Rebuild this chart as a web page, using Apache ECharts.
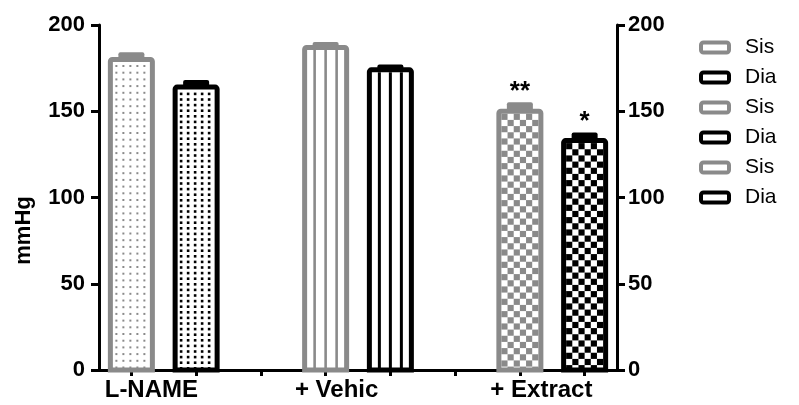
<!DOCTYPE html>
<html>
<head>
<meta charset="utf-8">
<script src="https://cdn.jsdelivr.net/npm/echarts@6/dist/echarts.min.js"></script>
<style>
  html, body { margin: 0; padding: 0; background: #fff; }
  #chart { width: 799px; height: 405px; }
</style>
</head>
<body>
<div id="chart"></div>
<script>
// Blood pressure (mmHg) per treatment group: systolic (Sis) and diastolic (Dia), mean + SEM
const groups   = ['L-NAME', '+ Vehic', '+ Extract'];
const sisMean  = [180, 187, 150];
const sisSem   = [3, 2, 4];
const diaMean  = [164, 174, 133];
const diaSem   = [3, 2, 3.5];
const sisMarks = ['', '', '**'];
const diaMarks = ['', '', '*'];
const yMin = 0, yMax = 200, yStep = 50;

const FONT = '"Liberation Sans", Arial, Helvetica, sans-serif';
const GRAY = '#8a8a8a';
const BLACK = '#000000';

// Each group takes three slots on the category axis: Sis, Dia, empty gap
const slotCount = groups.length * 3 - 1;
const slotIds = Array.from({ length: slotCount }, (_, i) => 's' + i);
const labelShift = [40, 22, 43];

// Fill style of every bar (pattern kind per group)
const fills = ['dots', 'stripes', 'checker'];

function patternElements(kind, isSis, color, ix, iy, iw, ih) {
  const out = [];
  const bottom = iy + ih;
  const push = (x, y, w, h) => {
    const y2 = Math.min(y + h, bottom);
    if (y2 <= y) return;
    out.push({ type: 'rect', shape: { x, y, width: w, height: y2 - y }, style: { fill: color } });
  };
  if (kind === 'dots') {
    const sx = 7, sy = isSis ? 6.7 : 5.6, d = isSis ? 2 : 2.6;
    for (let y = iy + 3; y < bottom - 1; y += sy) {
      for (let x = ix + 3.5 - d / 2; x + d <= ix + iw; x += sx) push(x, y, d, d);
    }
  } else if (kind === 'stripes') {
    const cx = ix + iw / 2, w = isSis ? 2.6 : 3;
    [-11, 0, 11].forEach(o => push(cx + o - w / 2, iy, w, ih));
  } else if (kind === 'checker') {
    const c = iw / 6;
    let r = 0;
    for (let y = iy; y < bottom; y += c, r++) {
      for (let k = 0; k < 6; k++) {
        if ((k + r) % 2 === 0) push(ix + k * c, y, c, c);
      }
    }
  }
  return out;
}

function markFor(isSis, slot) {
  const g = Math.floor(slot / 3);
  return isSis ? sisMarks[g] : diaMarks[g];
}

function makeRender(kind, isSis, color) {
  return function (params, api) {
    const slot = api.value(0), mean = api.value(1), sem = api.value(2);
    const mark = markFor(isSis, slot);
    const top = api.coord([slot, mean]);
    const base = api.coord([slot, 0]);
    const err = api.coord([slot, mean + sem]);
    const cx = top[0], bw = 42, lw = 5, capW = 26;
    const ix = cx - bw / 2 + lw / 2, iy = top[1] + lw / 2;
    const iw = bw - lw, ih = base[1] - iy;
    const children = [
      { type: 'rect', shape: { x: ix, y: iy, width: iw, height: ih }, style: { fill: '#fff' } }
    ].concat(patternElements(kind, isSis, color, ix, iy, iw, ih));
    // error bar (upper half): solid cap block resting on the bar
    children.push({
      type: 'rect',
      shape: { x: cx - capW / 2, y: err[1] - 2, width: capW, height: top[1] - err[1] + 2, r: [2, 2, 0, 0] },
      style: { fill: color }
    });
    children.push({
      type: 'rect', shape: { x: cx - bw / 2, y: top[1], width: bw, height: base[1] - top[1], r: [2, 2, 0, 0] },
      style: { fill: 'none', stroke: color, lineWidth: lw }
    });
    if (mark) {
      children.push({
        type: 'text',
        style: {
          text: mark, x: cx, y: err[1] - 13, fill: '#000',
          font: 'bold 26px ' + FONT, align: 'center', verticalAlign: 'middle'
        }
      });
    }
    return { type: 'group', children };
  };
}

const series = [];
const legendData = [];
groups.forEach((g, gi) => {
  [['Sis', sisMean, sisSem, GRAY, true, 0], ['Dia', diaMean, diaSem, BLACK, false, 1]].forEach(
    ([label, means, sems, color, isSis, off]) => {
      const name = label + ' ' + g;
      series.push({
        name,
        type: 'custom',
        xAxisIndex: 0,
        yAxisIndex: 0,
        itemStyle: { color: '#fff', borderColor: color, borderWidth: 4 },
        encode: { x: 0, y: 1 },
        data: [[gi * 3 + off, means[gi], sems[gi]]],
        renderItem: makeRender(fills[gi], isSis, color),
        silent: true
      });
      legendData.push({
        name, icon: 'roundRect',
        itemStyle: { color: '#fff', borderColor: color, borderWidth: 4 }
      });
    });
});

const richLabels = {};
groups.forEach((g, i) => {
  richLabels['g' + i] = {
    fontFamily: FONT, fontWeight: 'bold', fontSize: 24, color: '#000',
    padding: [0, 0, 0, labelShift[i]]
  };
});

const axisLine = { show: true, lineStyle: { color: '#000', width: 3 } };
const yAxisCommon = {
  type: 'value', min: yMin, max: yMax, interval: yStep,
  splitLine: { show: false },
  axisLine: axisLine,
  axisTick: { show: true, length: 8, lineStyle: { color: '#000', width: 3 } },
  axisLabel: { color: '#000', fontFamily: FONT, fontWeight: 'bold', fontSize: 22, margin: 14 }
};

const chart = echarts.init(document.getElementById('chart'), null, { renderer: 'canvas' });
chart.setOption({
  animation: false,
  backgroundColor: '#fff',
  grid: { left: 99, right: 182, top: 25, bottom: 35, containLabel: false },
  legend: {
    orient: 'vertical', left: 699, top: 37, padding: 0,
    itemWidth: 28, itemHeight: 10, itemGap: 9,
    formatter: name => name.split(' ')[0],
    textStyle: { color: '#000', fontFamily: FONT, fontSize: 21, lineHeight: 21, padding: [0, 0, 0, 11] },
    data: legendData,
    selectedMode: false
  },
  xAxis: {
    type: 'category', data: slotIds, boundaryGap: true,
    axisLine: axisLine,
    axisTick: { show: true, alignWithLabel: true, interval: 0, length: 6, lineStyle: { color: '#000', width: 3 } },
    axisLabel: {
      interval: 0, margin: 8,
      formatter: (v, i) => (i % 3 === 0 ? '{g' + (i / 3) + '|' + groups[i / 3] + '}' : ''),
      rich: richLabels
    }
  },
  yAxis: [
    Object.assign({}, yAxisCommon, {
      position: 'left',
      name: 'mmHg', nameLocation: 'middle', nameGap: 64, nameRotate: 90,
      nameTextStyle: {
        color: '#000', fontFamily: FONT, fontWeight: 'bold', fontSize: 22,
        padding: [0, 66, 0, 0]
      }
    }),
    Object.assign({}, yAxisCommon, {
      position: 'right',
      axisLabel: Object.assign({}, yAxisCommon.axisLabel, { margin: 11 })
    })
  ],
  series
});
</script>
</body>
</html>
